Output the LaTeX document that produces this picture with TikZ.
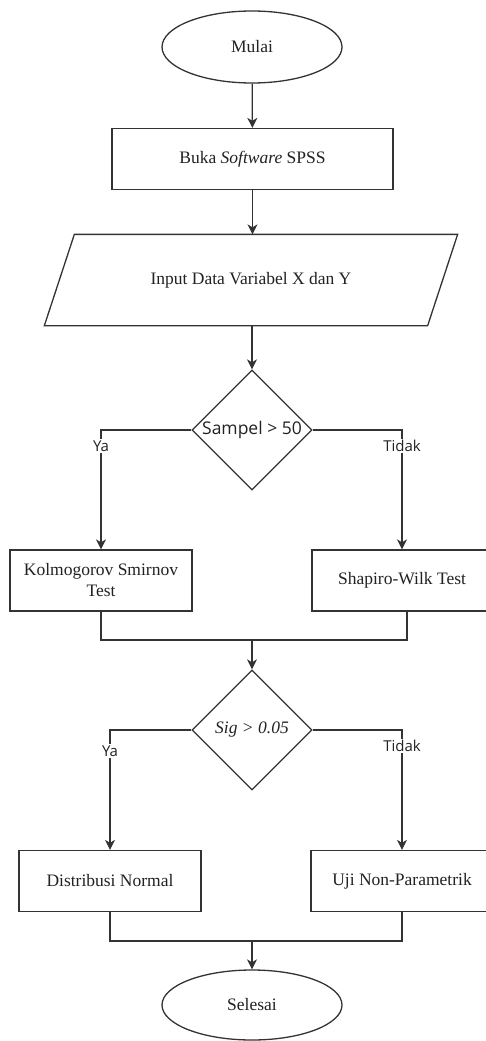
\documentclass[tikz,border=0pt]{standalone}
\usepackage{fontspec}
\setmainfont{Liberation Serif}
\newfontfamily\labelfont{Open Sans}
\usetikzlibrary{shapes.geometric,arrows.meta}

\definecolor{linec}{HTML}{333333}
\definecolor{txt}{HTML}{222222}

\begin{document}
\begin{tikzpicture}[x=1pt,y=-1pt,
  flow/.style={draw=linec, line width=1.3pt, text=txt,
    font=\fontsize{17.5}{21}\selectfont, inner sep=0pt, align=center},
  terminal/.style={flow, ellipse, minimum width=180pt, minimum height=72pt},
  process/.style={flow, rectangle, minimum width=182pt, minimum height=61pt},
  iobody/.style={flow, draw=none, rectangle, minimum width=382pt, minimum height=90pt},
  decision/.style={flow, diamond, minimum width=120pt, minimum height=120pt},
  condtext/.style={text=txt, inner sep=0pt},
  link/.style={draw=linec, line width=1.3pt},
  arrow/.style={link, -{Stealth[length=10pt,width=10pt,inset=3pt]}},
  answer/.style={font=\labelfont\fontsize{15}{18}\selectfont, fill=white,
    inner sep=1.5pt, text=txt}]

\useasboundingbox (0,0) rectangle (485,1041);
\fill[white] (0,0) rectangle (485,1041);

% shapes
\node[terminal] (mulai) at (252,47) {Mulai};
\node[process, minimum width=281pt] (buka) at (252.5,159) {Buka \textit{Software} SPSS};

% input/output parallelogram, slanted by 15pt on each side
\node[iobody] (input) at (251,280) {Input Data Variabel X dan Y};
\draw[link, line join=miter]
  ([xshift=15pt]input.north west) -- ([xshift=15pt]input.north east)
  -- ([xshift=-15pt]input.south east) -- ([xshift=-15pt]input.south west) -- cycle;

\node[decision] (d1) at (252,430) {};
\node[condtext, font=\labelfont\fontsize{17.5}{20}\selectfont] (d1t) at (d1) {Sampel > 50};

\node[process] (kol) at (101,580.5) {Kolmogorov Smirnov\\Test};
\node[process, minimum width=190pt] (shap) at (407,580.5) {\hspace*{-10pt}Shapiro-Wilk Test};

\node[decision] (d2) at (252,730) {};
\node[condtext, font=\itshape\fontsize{17.5}{21}\selectfont] (d2t) at (d2) {Sig > 0.05};

\node[process] (dist) at (110,881) {Distribusi Normal};
\node[process] (uji) at (402,881) {Uji Non-Parametrik};

\node[terminal, minimum height=70pt] (selesai) at (252,1005) {Selesai};

% junction points
\coordinate (m1) at (252,640);
\coordinate (m2) at (252,941);

% connectors
\draw[arrow] (mulai) -- (buka);
\draw[arrow] (buka.south) -- (buka.south |- input.north);
\draw[arrow] (input.south -| d1) -- (d1.north);

\draw[arrow] (d1.west) -| node[answer, pos=0.567] {Ya} (kol.north);
\draw[arrow] (d1.east) -| node[answer, pos=0.567] {Tidak} ([xshift=-5pt]shap.north);

\draw[link] (kol.south) |- (m1);
\draw[link] (shap.south) |- (m1);
\draw[arrow] (m1) -- (d2.north);

\draw[arrow] (d2.west) -| node[answer, pos=0.587] {Ya} (dist.north);
\draw[arrow] (d2.east) -| node[answer, pos=0.566] {Tidak} (uji.north);

\draw[link] (dist.south) |- (m2);
\draw[link] (uji.south) |- (m2);
\draw[arrow] (m2) -- (selesai.north);
\end{tikzpicture}
\end{document}
